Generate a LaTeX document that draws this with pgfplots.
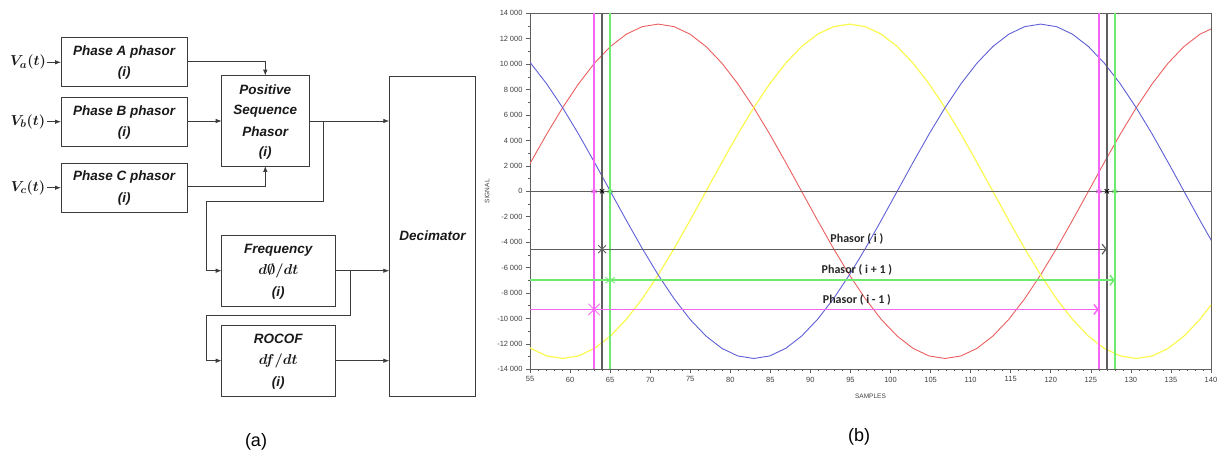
\documentclass[border=0pt]{standalone}
\usepackage[no-math]{fontspec}
\setmainfont{Liberation Sans}
\newfontfamily\calib{Carlito}
\usepackage{pgfplots}
\pgfplotsset{compat=1.18}
\usepackage{pgfplotstable}
\usetikzlibrary{arrows.meta}

\definecolor{sred}{RGB}{235,95,95}
\definecolor{sblue}{RGB}{95,95,215}
\definecolor{syel}{RGB}{250,250,80}
\definecolor{sgreen}{RGB}{110,235,110}
\definecolor{smag}{RGB}{245,100,245}
\definecolor{sgray}{RGB}{95,95,95}
\definecolor{diag}{RGB}{60,60,60}

\pgfplotstableread{
x      red     yel     blu
53.10  0       -11388  11388
55.09  2283    -12357  10073
57.08  4498    -12950  8453
59.07  6575    -13150  6575
61.06  8453    -12950  4498
63.04  10073   -12357  2283
65.03  11388   -11388  0
67.02  12357   -10073  -2283
69.01  12950   -8453   -4498
71.00  13150   -6575   -6575
72.99  12950   -4498   -8453
74.98  12357   -2283   -10073
76.97  11388   0       -11388
78.96  10073   2283    -12357
80.94  8453    4498    -12950
82.93  6575    6575    -13150
84.92  4498    8453    -12950
86.91  2283    10073   -12357
88.90  0       11388   -11388
90.89  -2283   12357   -10073
92.88  -4498   12950   -8453
94.87  -6575   13150   -6575
96.86  -8453   12950   -4498
98.84  -10073  12357   -2283
100.83 -11388  11388   0
102.82 -12357  10073   2283
104.81 -12950  8453    4498
106.80 -13150  6575    6575
108.79 -12950  4498    8453
110.78 -12357  2283    10073
112.77 -11388  0       11388
114.76 -10073  -2283   12357
116.74 -8453   -4498   12950
118.73 -6575   -6575   13150
120.72 -4498   -8453   12950
122.71 -2283   -10073  12357
124.70 0       -11388  11388
126.69 2283    -12357  10073
128.68 4498    -12950  8453
130.67 6575    -13150  6575
132.66 8453    -12950  4498
134.64 10073   -12357  2283
136.63 11388   -11388  0
138.62 12357   -10073  -2283
140.61 12950   -8453   -4498
}\sig

\begin{document}
\begin{tikzpicture}
\useasboundingbox (0,0) rectangle (1218pt,456pt);
% ---------------- (a) block diagram ----------------
\begin{scope}[x=1pt,y=-1pt,yshift=456pt,line width=0.8pt,
  box/.style={draw=diag},
  txt/.style={font=\fontsize{13.5}{15}\selectfont\bfseries\itshape,text=black!90,inner sep=0pt},
  mth/.style={font=\fontsize{15}{17}\selectfont\boldmath,text=black!90,inner sep=0pt},
  arr/.style={draw=diag,-{Latex[length=6pt,width=4.5pt]}}]
 % boxes
 \draw[box] (61,37.3) rectangle (187.3,86.7);
 \draw[box] (61,97.3) rectangle (187.3,146);
 \draw[box] (61,163.3) rectangle (187.3,212.3);
 \draw[box] (221.7,75.7) rectangle (309,166);
 \draw[box] (221.7,235.7) rectangle (335,306);
 \draw[box] (221.7,325.3) rectangle (335,396);
 \draw[box] (389.3,76) rectangle (475.7,396.7);
 % texts
 \node[txt] at (124.2,51.7) {Phase A phasor};
 \node[txt] at (124.2,72.7) {(i)};
 \node[txt] at (124.2,111.7) {Phase B phasor};
 \node[txt] at (124.2,133.3) {(i)};
 \node[txt] at (124.2,176.7) {Phase C phasor};
 \node[txt] at (124.2,199) {(i)};
 \node[txt] at (265.3,90) {Positive};
 \node[txt] at (265.3,110.7) {Sequence};
 \node[txt] at (265.3,131.7) {Phasor};
 \node[txt] at (265.3,153.3) {(i)};
 \node[txt] at (278.3,250) {Frequency};
 \node[mth] at (278.3,270.7) {$d\emptyset/dt$};
 \node[txt] at (278.3,292.7) {(i)};
 \node[txt] at (278.3,339.3) {ROCOF};
 \node[mth] at (278.3,360.7) {$df/dt$};
 \node[txt] at (278.3,382.7) {(i)};
 \node[txt] at (432.5,236) {Decimator};
 \node[mth] at (28,62.3) {$V_a(t)$};
 \node[mth] at (28,121.7) {$V_b(t)$};
 \node[mth] at (28,187.7) {$V_c(t)$};
 % arrows
 \draw[arr] (47,62.3) -- (61,62.3);
 \draw[arr] (47,121.7) -- (61,121.7);
 \draw[arr] (47,187.7) -- (61,187.7);
 \draw[arr] (187.3,61.7) -- (265.3,61.7) -- (265.3,75.7);
 \draw[arr] (187.3,121) -- (221.7,121);
 \draw[arr] (187.3,186.7) -- (265.3,186.7) -- (265.3,166);
 \draw[arr] (309,121) -- (389.3,121);
 \draw[arr] (323.3,121) -- (323.3,201.7) -- (206.7,201.7) -- (206.7,270.7) -- (221.7,270.7);
 \draw[arr] (335,270.7) -- (389.3,270.7);
 \draw[arr] (350,270.7) -- (350,315.3) -- (206.7,315.3) -- (206.7,360.7) -- (221.7,360.7);
 \draw[arr] (335,360.7) -- (389.3,360.7);
 % sub-captions
 \node[font=\fontsize{18}{20}\selectfont,text=black] at (256,441.7) {(a)};
 \node[font=\fontsize{18}{20}\selectfont,text=black] at (859,436.7) {(b)};
\end{scope}
% ---------------- (b) chart ----------------
\begin{axis}[
  at={(530pt,86.7pt)}, anchor=south west,
  width=681pt, height=356pt, scale only axis,
  xmin=55, xmax=140, ymin=-14000, ymax=14000,
  xtick={55,60,...,140}, ytick={-14000,-12000,...,14000},
  minor x tick num=4, minor y tick num=1,
  tick align=outside, tick pos=left,
  major tick length=4pt, minor tick length=2pt,
  axis line style={sgray, line width=1pt},
  every tick/.style={sgray, line width=0.6pt},
  tick label style={font=\fontsize{7.5}{9}\selectfont, text=black!75},
  /pgf/number format/assume math mode=true,
  scaled y ticks=false,
  yticklabel={\pgfmathprintnumber[fixed,precision=0,1000 sep={\hspace{1.8pt}},assume math mode=true]{\tick}},
  xlabel={SAMPLES}, ylabel={SIGNAL},
  label style={font=\fontsize{6.5}{8}\selectfont, text=black!75},
  x label style={at={(axis description cs:0.5,-0.075)}, anchor=center},
  y label style={at={(axis description cs:-0.0631,0.5)}, anchor=center},
]
\addplot[sred, line width=0.9pt] table[x=x,y=red]{\sig};
\addplot[syel, line width=1.2pt] table[x=x,y=yel]{\sig};
\addplot[sblue, line width=0.9pt] table[x=x,y=blu]{\sig};
% zero line
\addplot[sgray, line width=1pt] coordinates {(55,0) (140,0)};
% vertical sample lines
\addplot[smag, line width=2pt] coordinates {(63,-14000) (63,14000)};
\addplot[sgray, line width=1.5pt] coordinates {(64,-14000) (64,14000)};
\addplot[sgreen, line width=2pt] coordinates {(65,-14000) (65,14000)};
\addplot[smag, line width=2pt] coordinates {(126,-14000) (126,14000)};
\addplot[sgray, line width=1.5pt] coordinates {(127,-14000) (127,14000)};
\addplot[sgreen, line width=2pt] coordinates {(128,-14000) (128,14000)};
% phasor window arrows
\addplot[sgray, line width=1.2pt, -{Straight Barb[length=4pt,width=10pt]}] coordinates {(55,-4550) (127,-4550)};
\addplot[sgreen, line width=1.5pt, -{Straight Barb[length=4pt,width=10pt]}] coordinates {(55,-6990) (128,-6990)};
\addplot[smag, line width=1.5pt, -{Straight Barb[length=4pt,width=10pt]}] coordinates {(55,-9290) (126,-9290)};
% markers
\addplot[only marks, mark=asterisk, smag, mark size=3pt, mark options={line width=0.8pt}] coordinates {(63,0) (126,0)};
\addplot[only marks, mark=x, black, mark size=3pt, mark options={line width=0.8pt}] coordinates {(64,0) (127,0)};
\addplot[only marks, mark=asterisk, sgreen, mark size=3pt, mark options={line width=0.8pt}] coordinates {(65,0) (128,0)};
\addplot[only marks, mark=x, sgray, mark size=5.5pt, mark options={line width=0.8pt}] coordinates {(64,-4550)};
\addplot[only marks, mark=asterisk, sgreen, mark size=5.5pt, mark options={line width=0.8pt}] coordinates {(65,-6990)};
\addplot[only marks, mark=x, smag, mark size=8pt, mark options={line width=0.8pt}] coordinates {(63,-9290)};
% labels
\node[font=\calib\bfseries\fontsize{12}{14}\selectfont, text=black!85] at (axis cs:95.8,-3745) {Phasor ( i )};
\node[font=\calib\bfseries\fontsize{12}{14}\selectfont, text=black!85] at (axis cs:95.8,-6180) {Phasor ( i + 1 )};
\node[font=\calib\bfseries\fontsize{12}{14}\selectfont, text=black!85] at (axis cs:95.8,-8540) {Phasor ( i - 1 )};
\end{axis}
\end{tikzpicture}
\end{document}
